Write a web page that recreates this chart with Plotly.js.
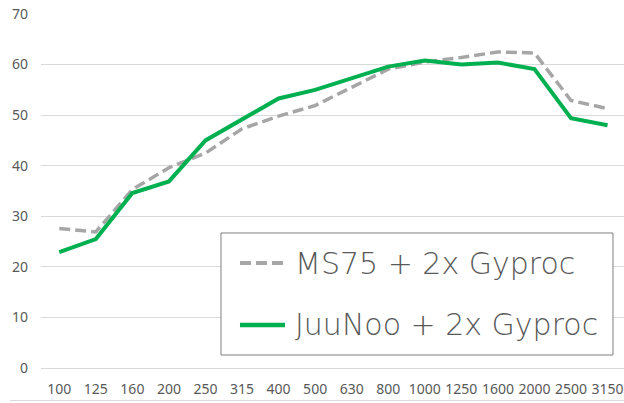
<!DOCTYPE html>
<html>
<head>
<meta charset="utf-8">
<script src="https://cdn.plot.ly/plotly-3.0.1.min.js"></script>
<style>html,body{margin:0;padding:0;background:#fff;}#chart{width:624px;height:403px;}</style>
</head>
<body>
<div id="chart"></div>
<script>
const categories = ["100","125","160","200","250","315","400","500","630","800","1000","1250","1600","2000","2500","3150"];
const ms75 = [27.6, 26.9, 35.3, 39.6, 42.5, 47.3, 49.8, 51.9, 55.5, 59.1, 60.5, 61.4, 62.5, 62.3, 52.9, 51.3];
const juunoo = [22.9, 25.5, 34.6, 36.9, 45.0, 49.2, 53.3, 55.0, 57.4, 59.6, 60.8, 60.0, 60.4, 59.1, 49.4, 48.0];
const seriesNames = ["MS75 + 2x Gyproc", "JuuNoo + 2x Gyproc"];
const seriesColors = ['#a6a6a6', '#00b050'];
const seriesDash = ['11px,5px', 'solid'];
const seriesWidth = [3.5, 4];
const seriesValues = [ms75, juunoo];

const traces = seriesValues.map((vals, i) => ({
  x: categories, y: vals, name: seriesNames[i], type: 'scatter', mode: 'lines',
  line: {color: seriesColors[i], width: seriesWidth[i], dash: seriesDash[i]}
}));

// Legend drawn as shapes + annotations (paper coordinates)
const legendRows = [0.2966, 0.1215];
const shapes = [
  {type: 'rect', xref: 'paper', yref: 'paper', x0: 0.3087, x1: 0.9811, y0: 0.0367, y1: 0.3814,
   line: {color: '#7f7f7f', width: 1}, fillcolor: '#ffffff', layer: 'above'},
  {type: 'line', xref: 'paper', yref: 'paper', x0: -0.053, x1: 1.0, y0: -0.092, y1: -0.092,
   line: {color: '#d9d9d9', width: 1}}
];
const annotations = [];
seriesNames.forEach((nm, i) => {
  shapes.push({type: 'line', xref: 'paper', yref: 'paper', layer: 'above',
    x0: 0.3413, x1: 0.4185, y0: legendRows[i], y1: legendRows[i],
    line: {color: seriesColors[i], width: seriesWidth[i] + 0.5, dash: seriesDash[i]}});
  annotations.push({xref: 'paper', yref: 'paper', x: 0.4322, y: legendRows[i],
    xanchor: 'left', yanchor: 'middle', showarrow: false, text: nm,
    font: {family: 'DejaVu Sans, sans-serif', size: 30, weight: 200, color: '#595959'}});
});

const layout = {
  width: 624, height: 403,
  margin: {l: 41, r: 0, t: 14, b: 35},
  paper_bgcolor: '#ffffff', plot_bgcolor: '#ffffff',
  font: {family: 'Noto Sans, Open Sans, sans-serif', color: '#595959', size: 14},
  showlegend: false,
  xaxis: {
    type: 'category', range: [-0.5, 15.45],
    showgrid: false, zeroline: false, showline: false,
    ticks: '', ticklabelstandoff: 11,
    tickfont: {size: 14, color: '#595959'},
    fixedrange: true
  },
  yaxis: {
    range: [0, 70], dtick: 10, tick0: 0,
    showgrid: true, gridcolor: '#d9d9d9', gridwidth: 1,
    zeroline: true, zerolinecolor: '#d9d9d9', zerolinewidth: 1,
    showline: false, ticks: '', ticklabelstandoff: 12,
    tickfont: {size: 14, color: '#595959'},
    fixedrange: true
  },
  shapes: shapes,
  annotations: annotations
};

Plotly.newPlot('chart', traces, layout, {displayModeBar: false, staticPlot: true});
</script>
</body>
</html>
